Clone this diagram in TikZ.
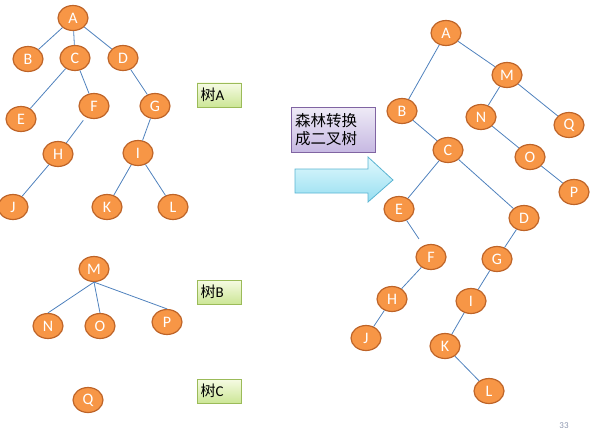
\documentclass[tikz,border=0pt]{standalone}
\usepackage{fontspec}
\setmainfont{Carlito}
\newfontfamily\cjk{Noto Sans CJK SC}
\usetikzlibrary{shapes.geometric}
\definecolor{nodefill}{RGB}{247,150,70}
\definecolor{nodeline}{RGB}{190,100,40}
\definecolor{edgeblue}{RGB}{79,129,189}
\definecolor{greenline}{RGB}{155,187,89}
\definecolor{purpleline}{RGB}{128,100,162}
\definecolor{arrowline}{RGB}{90,180,210}
\begin{document}
\begin{tikzpicture}[x=1pt, y=-1pt,
	tnode/.style={draw=nodeline, fill=nodefill, ellipse, line width=1.2pt, minimum width=30pt, minimum height=25pt, inner sep=0pt, text=white, font=\fontsize{16}{16}\selectfont},
	tlabel/.style={draw=greenline, top color={rgb,255:red,246;green,251;blue,228}, bottom color={rgb,255:red,204;green,230;blue,150}, line width=0.8pt, text width=37pt, minimum height=24pt, inner sep=3.5pt, align=left, font=\fontsize{15}{15}\selectfont},
	tedge/.style={draw=edgeblue, line width=0.8pt}]
	\useasboundingbox (0, 0) rectangle (600, 428);
	\clip (0, 0) rectangle (600, 428);

	\node[tnode] at (73, 18) (A) 	{A};
	\node[tnode] at (28, 59) (B) 	{B};
	\node[tnode] at (75, 58) (C) 	{C};
	\node[tnode] at (123, 58) (D) 	{D};
	\node[tnode] at (21, 119) (E) 	{E};
	\node[tnode] at (94, 106) (F) 	{F};
	\node[tnode] at (155, 106) (G) 	{G};
	\node[tnode] at (58, 154) (H) 	{H};
	\node[tnode] at (138, 153) (I) 	{I};
	\node[tnode] at (13, 207) (J) 	{J};
	\node[tnode] at (107, 207) (K) 	{K};
	\node[tnode] at (173, 207) (L) 	{L};
	\node[tnode] at (94, 269) (M) 	{M};
	\node[tnode] at (48, 326) (N) 	{N};
	\node[tnode] at (100, 326) (O) 	{O};
	\node[tnode] at (167, 322) (P) 	{P};
	\node[tnode] at (88, 400) (Q) 	{Q};

	\draw [tedge] (A) edge (B) (A) edge (C) (A) edge (D);
	\draw [tedge] (C) edge (E) (C) edge (F) (D) edge (G);
	\draw [tedge] (F) edge[shorten <=4pt] (H) (H) edge (J) (G) edge (I);
	\draw [tedge] (I) edge (K) (I) edge (L);
	\draw [tedge] (M.south) edge (N.north) (M.south) edge (O.north) (M.south) edge (P.north);

	\node[tlabel] at (219, 95) (labA) 	{{\cjk 树}A};
	\node[tlabel] at (219, 292) (labB) 	{{\cjk 树}B};
	\node[tlabel] at (219, 391) (labC) 	{{\cjk 树}C};

	\node[draw=purpleline, top color={rgb,255:red,238;green,234;blue,246}, bottom color={rgb,255:red,198;green,184;blue,226}, line width=0.8pt, text width=76pt, minimum height=45pt, inner sep=4pt, align=left, font=\cjk\fontsize{15.5}{18}\selectfont] at (333, 130) (title) {森林转换\\成二叉树};

	\draw [draw=arrowline, line width=0.8pt, top color={rgb,255:red,226;green,249;blue,253}, bottom color={rgb,255:red,150;green,222;blue,241}]
		(295, 169) -- (368, 169) -- (368, 157) -- (393, 180) -- (368, 202) -- (368, 193) -- (295, 193) -- cycle;

	\node[tnode] at (446, 33) (bA) 	{A};
	\node[tnode] at (507, 75) (bM) 	{M};
	\node[tnode] at (402, 111) (bB) 	{B};
	\node[tnode] at (481, 117) (bN) 	{N};
	\node[tnode] at (569, 125) (bQ) 	{Q};
	\node[tnode] at (448, 150) (bC) 	{C};
	\node[tnode] at (530, 157) (bO) 	{O};
	\node[tnode] at (574, 192) (bP) 	{P};
	\node[tnode] at (399, 209) (bE) 	{E};
	\node[tnode] at (524, 218) (bD) 	{D};
	\node[tnode] at (431, 257) (bF) 	{F};
	\node[tnode] at (497, 259) (bG) 	{G};
	\node[tnode] at (392, 299) (bH) 	{H};
	\node[tnode] at (471, 301) (bI) 	{I};
	\node[tnode] at (366, 338) (bJ) 	{J};
	\node[tnode] at (445, 346) (bK) 	{K};
	\node[tnode] at (489, 391) (bL) 	{L};

	\draw [tedge] (bA) edge (bB) (bA) edge (bM) (bM) edge (bN) (bM) edge (bQ);
	\draw [tedge] (bN) edge (bO) (bO) edge (bP) (bB) edge (bC);
	\draw [tedge] (bC) edge (bE) (bC) edge (bD) (bE) edge[shorten >=8pt] (bF);
	\draw [tedge] (bF) edge (bH) (bH) edge (bJ) (bD) edge (bG);
	\draw [tedge] (bG) edge (bI) (bI) edge (bK) (bK) edge (bL);

	\node[anchor=north, inner sep=0pt, text={rgb,255:red,140;green,150;blue,175}, font=\fontsize{9}{9}\selectfont] at (564, 422) (page) {33};
\end{tikzpicture}
\end{document}
